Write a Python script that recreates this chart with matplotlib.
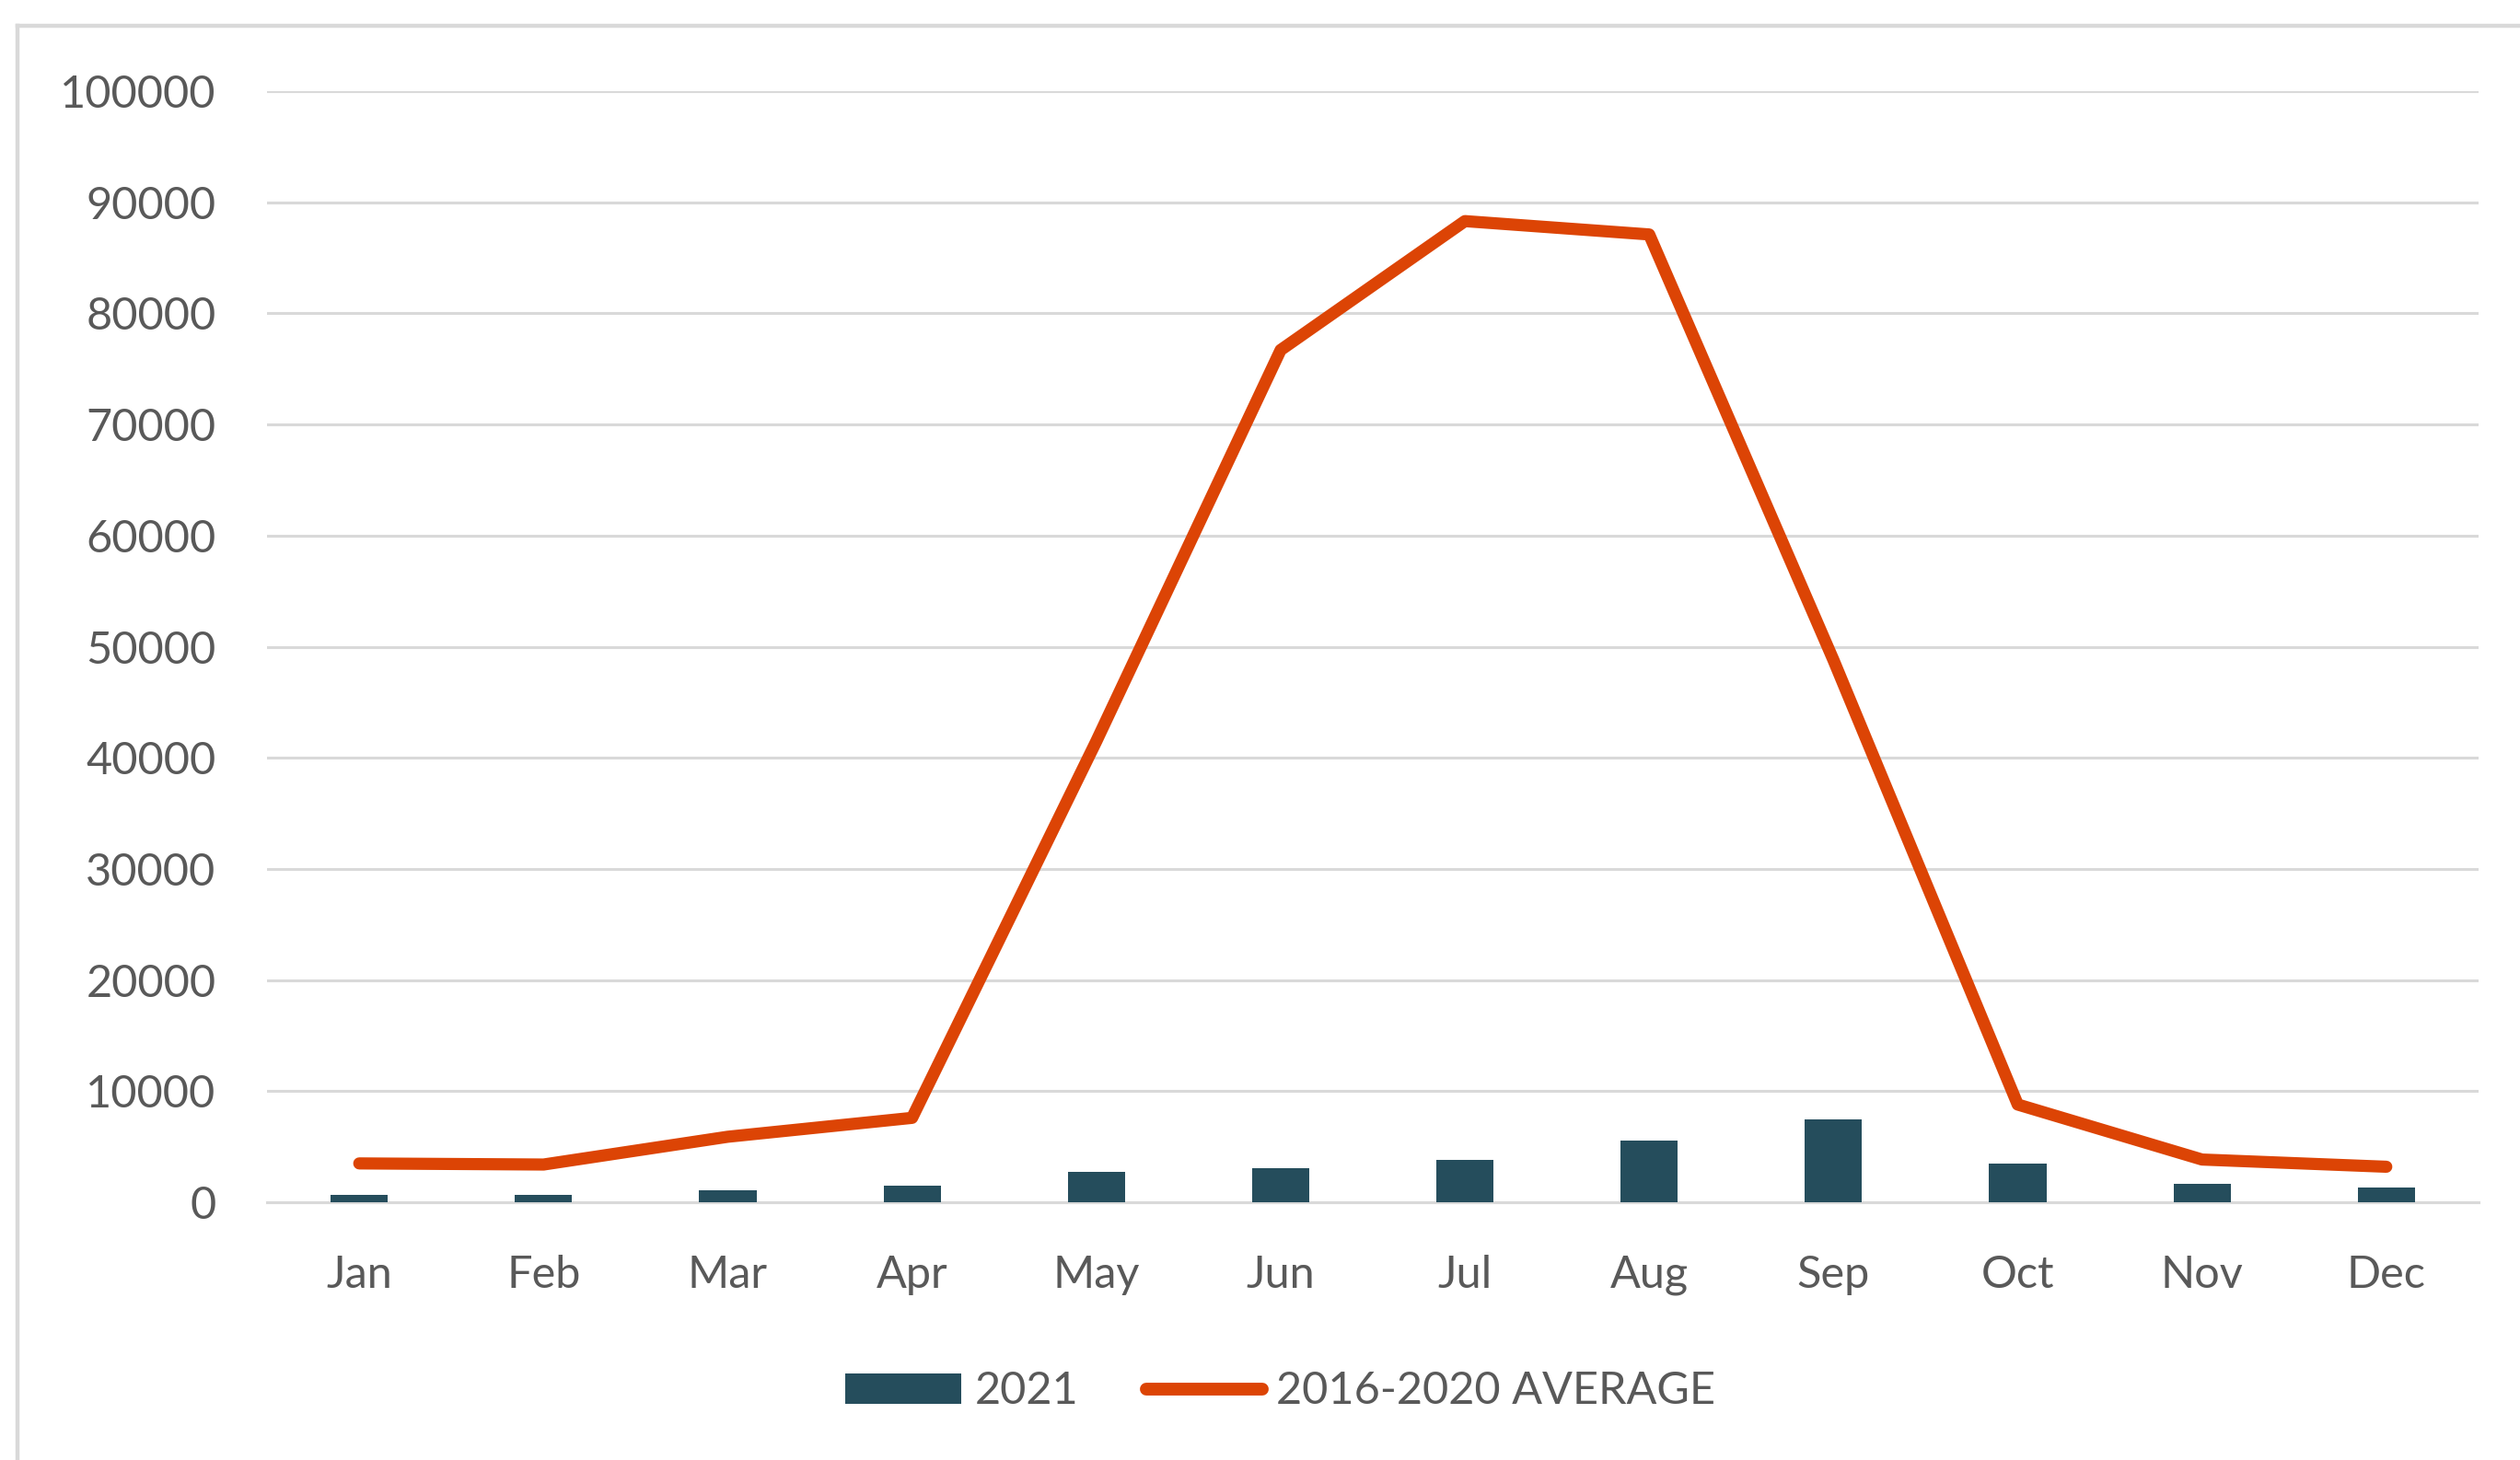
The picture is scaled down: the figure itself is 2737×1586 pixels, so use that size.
import numpy as np
import matplotlib.pyplot as plt
from matplotlib.lines import Line2D
from matplotlib.patches import Patch

# Daten
monate = ["Jan", "Feb", "Mar", "Apr", "May", "Jun", "Jul", "Aug", "Sep", "Oct", "Nov", "Dec"]
werte_2021 = [700, 700, 1100, 1500, 2700, 3050, 3850, 5550, 7450, 3500, 1650, 1300]
mittel_2016_2020 = [3500, 3400, 5900, 7600, 41500, 76700, 88300, 87100, 48800, 8800, 3850, 3200]
y_ticks = [0, 10000, 20000, 30000, 40000, 50000, 60000, 70000, 80000, 90000, 100000]

bar_farbe = "#254D5C"
linien_farbe = "#DC4405"
text_farbe = "#595959"
gitter_farbe = "#D9D9D9"

plt.rcParams['font.family'] = ['Lato', 'DejaVu Sans']

fig = plt.figure(figsize=(27.37, 15.86), dpi=100)
ax = fig.add_axes([0.106, 0.1765, 0.9835 - 0.106, 0.9376 - 0.1765])

x = np.arange(len(monate))
ax.bar(x, werte_2021, width=0.31, color=bar_farbe, zorder=3, label="2021")
ax.plot(x, mittel_2016_2020, color=linien_farbe, lw=9.5, solid_capstyle='round',
        solid_joinstyle='round', zorder=4, label="2016-2020 AVERAGE")

ax.set_xlim(-0.5, len(monate) - 0.5)
ax.set_ylim(0, 100000)
ax.set_yticks(y_ticks)
ax.set_yticklabels([str(v) for v in y_ticks])
ax.set_xticks(x)
ax.set_xticklabels(monate)

ax.grid(axis='y', color=gitter_farbe, lw=2.2, zorder=0)
for s in ["top", "right", "left"]:
    ax.spines[s].set_visible(False)
ax.spines["bottom"].set_color(gitter_farbe)
ax.spines["bottom"].set_linewidth(2.2)
ax.tick_params(axis='both', length=0, labelsize=35, colors=text_farbe)
ax.tick_params(axis='y', pad=40)
ax.tick_params(axis='x', pad=41)

# Legende
handles = [Patch(facecolor=bar_farbe, edgecolor='none'),
           Line2D([0], [0], color=linien_farbe, lw=10, solid_capstyle='round')]
leg = fig.legend(handles, ["2021", "2016-2020 AVERAGE"], loc='center',
                 bbox_to_anchor=(0.508, 0.047), ncol=2, frameon=False,
                 fontsize=35, handlelength=2.6, handleheight=0.68,
                 handletextpad=0.3, columnspacing=1.5)
for t in leg.get_texts():
    t.set_color(text_farbe)

# Rahmen (rechts und unten abgeschnitten)
fig.add_artist(Line2D([19 / 2737, 19 / 2737], [1 - 28 / 1586, -0.1], color=gitter_farbe,
                      lw=3.2, transform=fig.transFigure))
fig.add_artist(Line2D([19 / 2737, 1.1], [1 - 28 / 1586, 1 - 28 / 1586], color=gitter_farbe,
                      lw=3.2, transform=fig.transFigure))

fig.savefig("out.png", dpi=100)
